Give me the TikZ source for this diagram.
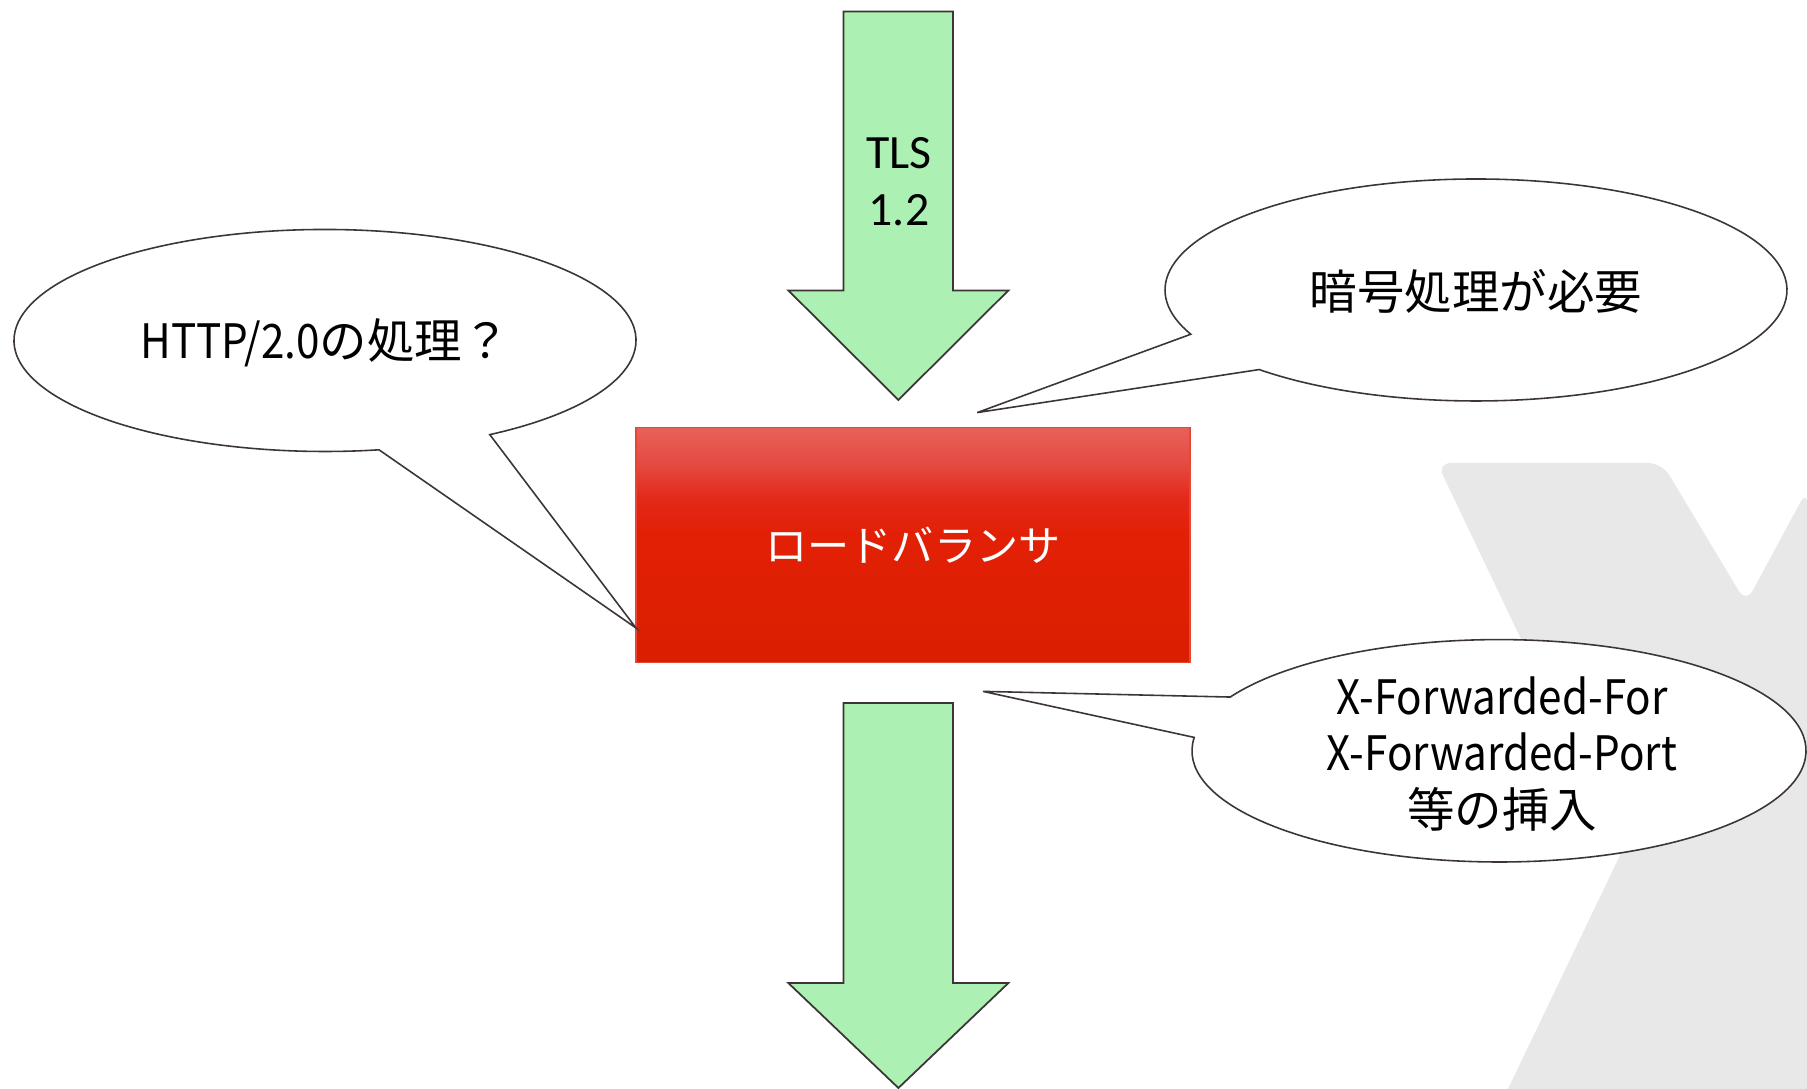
\documentclass[tikz,border=0pt]{standalone}
\usepackage{fontspec}
\newfontfamily\jpfont{Noto Sans CJK JP}
\newfontfamily\narrowfont[FakeStretch=0.89]{Noto Sans CJK JP}
\newfontfamily\tlsfont{Carlito}

\definecolor{arrowgreen}{RGB}{173,240,179}
\definecolor{edgegrey}{RGB}{60,52,54}
\definecolor{markgrey}{RGB}{232,232,232}
\definecolor{lbtop}{RGB}{230,98,90}
\definecolor{lbupper}{RGB}{229,75,66}
\definecolor{lbred}{RGB}{227,41,26}
\definecolor{lbmid}{RGB}{226,32,6}
\definecolor{lbbot}{RGB}{218,30,0}
\definecolor{lbedge}{RGB}{232,70,52}

\pgfdeclareverticalshading{lbshade}{100bp}{color(0bp)=(lbbot); color(25bp)=(lbbot); color(52.5bp)=(lbmid); color(60bp)=(lbred); color(67.5bp)=(lbupper); color(75bp)=(lbtop); color(100bp)=(lbtop)}

\tikzset{
    bigarrow/.style={fill=arrowgreen, draw=edgegrey, line width=0.5pt, line join=miter},
    bubble/.style={fill=white, draw=edgegrey, line width=0.45pt},
    bubbletext/.style={font=\jpfont\fontsize{13.5}{16}\selectfont, align=center, inner sep=0pt},
    lbbox/.style={shading=lbshade, draw=lbedge, line width=0.4pt, minimum width=5.54cm,
        minimum height=2.35cm, inner sep=0pt, text=white, font=\jpfont\fontsize{12}{14}\selectfont}
}

\begin{document}
\begin{tikzpicture}

    % Fix the page size
    \useasboundingbox (0,0) rectangle (18.07,10.89);

    % Draw the grey mark in the background
    \fill[markgrey] (16.22,2.38) [rounded corners=0.14cm] -- (14.37,6.26) -- (16.62,6.26)
        -- (17.46,4.86) -- (18.07,5.99) [sharp corners] -- (18.07,0) -- (15.08,0) -- cycle;

    % Define the centers of the bubbles
    \coordinate (lcen) at (3.25,7.485);
    \coordinate (tcen) at (14.76,7.99);
    \coordinate (bcen) at (14.99,3.382);

    % Define the tips of the bubbles
    \coordinate (ltip) at (6.36,4.61);
    \coordinate (ttip) at (9.772,6.764);
    \coordinate (btip) at (9.83,3.976);

    % Draw the arrows in and out
    \draw[bigarrow] (8.436,10.775) -- (9.531,10.775) -- (9.531,7.986) -- (10.084,7.986)
        -- (8.984,6.89) -- (7.883,7.986) -- (8.436,7.986) -- cycle;
    \draw[bigarrow] (8.436,3.86) -- (9.531,3.86) -- (9.531,1.06) -- (10.084,1.06)
        -- (8.984,0.01) -- (7.883,1.06) -- (8.436,1.06) -- cycle;
    \node[font=\tlsfont\fontsize{13.6}{16.3}\selectfont, align=center, inner sep=0pt] (tls) at (8.99,9.07) {TLS\\1.2};

    % Draw the load balancer
    \node[lbbox] (lb) at (9.13,5.44) {ロードバランサ};

    % Draw the bubbles with their tails
    \draw[bubble] (lcen) ++(-58:3.11 and 1.11)
        arc[start angle=-58, end angle=280, x radius=3.11, y radius=1.11] -- (ltip) -- cycle;
    \draw[bubble] (tcen) ++(225.8:3.11 and 1.11)
        arc[start angle=225.8, end angle=563.5, x radius=3.11, y radius=1.11] -- (ttip) -- cycle;
    \draw[bubble] (bcen) ++(173.1:3.07 and 1.112)
        arc[start angle=173.1, end angle=511.1, x radius=3.07, y radius=1.112] -- (btip) -- cycle;

    % Add the texts of the bubbles
    \node[bubbletext] (http) at (3.25,7.46) {{\narrowfont HTTP/2.0}の処理？};
    \node[bubbletext] (crypt) at (14.76,7.975) {暗号処理が必要};
    \node[bubbletext] (xff) at (15.02,3.35) {{\narrowfont X-Forwarded-For}\\{\narrowfont X-Forwarded-Port}\\等の挿入};

\end{tikzpicture}
\end{document}
